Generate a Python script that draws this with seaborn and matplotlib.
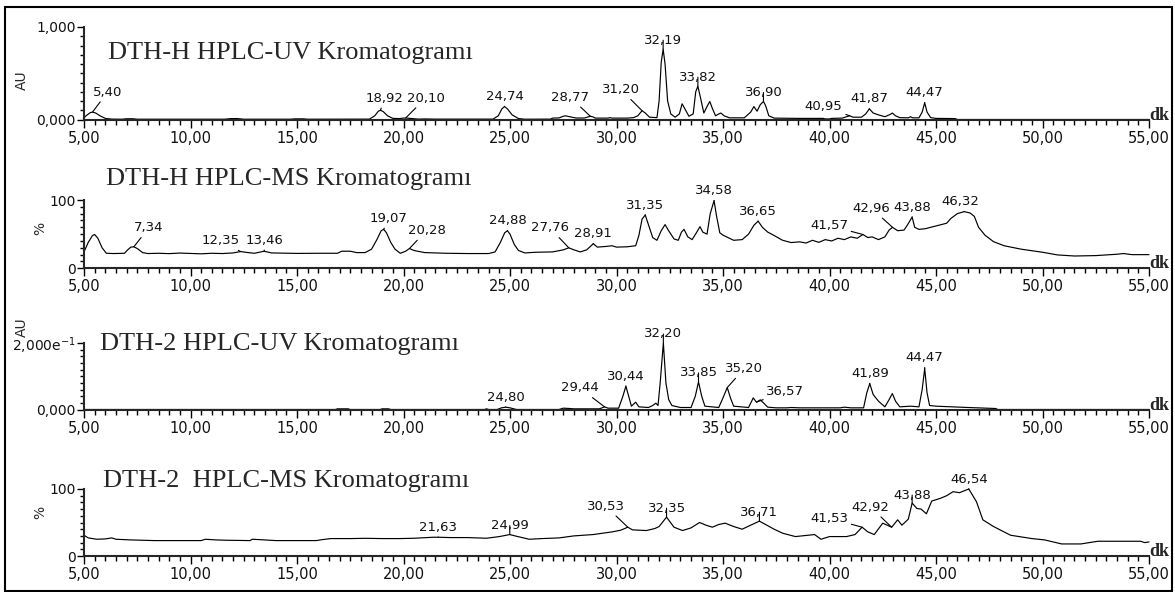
import numpy as np
import matplotlib
matplotlib.use("Agg")
import matplotlib.pyplot as plt
import seaborn as sns
from matplotlib.ticker import MultipleLocator, FixedLocator, FuncFormatter
from matplotlib.patches import Rectangle

# ---------------- DATA ----------------
# Panel 1: DTH-H HPLC-UV (AU)
uv1_t = [5.00, 5.15, 5.30, 5.40, 5.55, 5.75, 6.00, 6.30, 6.80, 7.00, 7.30, 7.50, 11.6, 11.9, 12.2, 12.5,
         14.7, 14.9, 15.3, 15.5, 18.40, 18.65, 18.82, 18.92, 19.05, 19.25, 19.50, 19.80, 20.00, 20.10,
         20.40, 20.70, 21.0, 21.5, 24.20, 24.45, 24.62, 24.74, 24.88, 25.10, 25.40, 25.70, 26.9, 27.0,
         27.3, 27.5, 27.6, 27.8, 28.1, 28.5, 28.77, 28.9, 29.0, 29.6, 29.7, 29.8, 30.5, 30.8, 31.0,
         31.20, 31.35, 31.55, 31.90, 32.00, 32.10, 32.19, 32.28, 32.40, 32.55, 32.75, 32.95, 33.08,
         33.20, 33.40, 33.60, 33.72, 33.82, 33.93, 34.10, 34.25, 34.38, 34.50, 34.65, 34.80, 34.90,
         35.05, 35.30, 36.00, 36.30, 36.45, 36.60, 36.75, 36.90, 37.00, 37.15, 37.40, 38.5, 39.7, 39.8,
         40.0, 40.1, 40.6, 40.8, 40.95, 41.10, 41.50, 41.70, 41.87, 42.05, 42.30, 42.60, 42.85, 42.95,
         43.10, 43.30, 43.70, 43.80, 43.90, 44.20, 44.35, 44.47, 44.58, 44.75, 45.00, 45.90, 46.00, 55.00]
uv1_v = [0.020, 0.050, 0.075, 0.080, 0.070, 0.040, 0.012, 0.004, 0.003, 0.008, 0.008, 0.003, 0.003, 0.010, 0.010, 0.003,
         0.003, 0.007, 0.007, 0.003, 0.004, 0.040, 0.090, 0.100, 0.085, 0.040, 0.012, 0.010, 0.015, 0.016,
         0.010, 0.004, 0.006, 0.004, 0.004, 0.040, 0.115, 0.140, 0.115, 0.050, 0.010, 0.003, 0.004, 0.015,
         0.017, 0.035, 0.040, 0.030, 0.016, 0.016, 0.035, 0.028, 0.015, 0.015, 0.020, 0.015, 0.015, 0.020, 0.040,
         0.095, 0.070, 0.025, 0.020, 0.200, 0.620, 0.760, 0.600, 0.200, 0.060, 0.025, 0.060, 0.170,
         0.120, 0.035, 0.060, 0.300, 0.360, 0.250, 0.070, 0.140, 0.195, 0.120, 0.040, 0.060, 0.070,
         0.040, 0.018, 0.018, 0.080, 0.140, 0.090, 0.160, 0.195, 0.150, 0.040, 0.015, 0.012, 0.012, 0.006,
         0.006, 0.012, 0.015, 0.030, 0.040, 0.025, 0.025, 0.060, 0.115, 0.070, 0.050, 0.030, 0.055, 0.070,
         0.040, 0.020, 0.018, 0.030, 0.018, 0.018, 0.080, 0.180, 0.080, 0.020, 0.012, 0.010, 0.000, 0.000]

# Panel 2: DTH-H HPLC-MS (%)
ms1_t = [5.00, 5.20, 5.40, 5.50, 5.65, 5.85, 6.05, 6.40, 6.90, 7.05, 7.20, 7.34, 7.50, 7.75, 8.0, 8.5, 9.0,
         9.5, 10.0, 10.5, 11.0, 11.5, 12.0, 12.35, 12.7, 13.0, 13.46, 13.8, 14.5, 15.0, 16.0, 16.9, 17.1,
         17.5, 17.8, 18.2, 18.5, 18.75, 18.95, 19.07, 19.2, 19.4, 19.6, 19.85, 20.1, 20.28, 20.5, 21.0,
         22.0, 23.0, 24.0, 24.3, 24.55, 24.75, 24.88, 25.0, 25.2, 25.4, 25.7, 26.2, 27.0, 27.5, 27.76,
         28.0, 28.3, 28.6, 28.91, 29.1, 29.5, 29.8, 30.0, 30.5, 30.9, 31.05, 31.2, 31.35, 31.5, 31.7,
         31.9, 32.1, 32.28, 32.45, 32.7, 32.9, 33.05, 33.17, 33.35, 33.55, 33.75, 33.92, 34.05, 34.25,
         34.40, 34.58, 34.70, 34.85, 35.0, 35.5, 35.9, 36.2, 36.45, 36.65, 36.85, 37.1, 37.4, 37.8, 38.2,
         38.6, 38.9, 39.2, 39.5, 39.8, 40.1, 40.4, 40.7, 41.0, 41.3, 41.57, 41.8, 42.0, 42.3, 42.6, 42.8,
         42.96, 43.2, 43.5, 43.65, 43.88, 44.0, 44.2, 44.5, 45.0, 45.5, 45.7, 46.0, 46.32, 46.6, 46.8,
         47.0, 47.3, 47.7, 48.2, 49.0, 50.0, 50.7, 51.5, 52.5, 53.5, 53.8, 54.2, 55.0]
ms1_v = [24, 38, 48, 49.5, 44, 30, 22, 21.6, 22, 27, 31, 31.5, 29, 23, 21.6, 22, 21.5,
         22.3, 21.8, 21.2, 22, 21.6, 22.5, 24.5, 23, 22, 25, 22.5, 22, 21.8, 22, 22, 25,
         25, 23, 23, 28, 42, 55, 57, 52, 38, 28, 22, 25, 29, 26, 23,
         22, 21.6, 21.6, 24, 38, 52, 55, 50, 35, 26, 22.5, 23.5, 24, 27, 30,
         27, 24, 27, 36, 31, 32, 33, 31, 31.5, 33, 48, 72, 78, 64, 45,
         41, 55, 64, 55, 43, 41, 53, 57, 46, 42, 52, 61, 53, 50,
         80, 99, 76, 52, 48.5, 41, 42, 50, 63, 69, 60, 53, 48, 41, 37.7,
         38.7, 37, 41, 38, 42, 40, 44, 42, 46, 44, 49.5, 45, 46, 42, 46, 56,
         60, 55, 56, 63, 75, 60, 57, 58, 62, 66, 73, 80, 83, 81, 76,
         60, 48.5, 39, 33, 28, 23.5, 19.6, 18, 18.6, 20.6, 21.6, 20, 20]

# Panel 3: DTH-2 HPLC-UV (AU)
uv2_t = [5.0, 16.8, 16.9, 17.4, 17.5, 18.9, 19.0, 19.3, 19.4, 23.8, 23.9, 24.0, 24.4, 24.6, 24.80, 25.0,
         25.3, 27.3, 27.5, 27.8, 28.0, 29.2, 29.44, 29.6, 30.1, 30.3, 30.44, 30.55, 30.7, 30.9, 31.05,
         31.5, 31.7, 31.85, 31.95, 32.05, 32.20, 32.32, 32.45, 32.6, 33.0, 33.5, 33.7, 33.85, 34.0,
         34.15, 34.8, 35.0, 35.20, 35.35, 35.5, 36.2, 36.42, 36.57, 36.75, 36.9, 37.1, 37.5, 38.0, 38.2,
         38.6, 40.5, 40.7, 41.0, 41.6, 41.75, 41.89, 42.05, 42.3, 42.6, 42.8, 42.95, 43.1, 43.3, 43.8,
         44.2, 44.35, 44.47, 44.58, 44.7, 45.0, 46.5, 47.8, 47.9, 55.0]
uv2_v = [0.0, 0.0, 0.002, 0.002, 0.0, 0.0, 0.002, 0.002, 0.0, 0.0, 0.002, 0.0, 0.0, 0.005, 0.007, 0.005,
         0.0, 0.0, 0.004, 0.003, 0.002, 0.002, 0.008, 0.004, 0.004, 0.040, 0.070, 0.045, 0.010, 0.022, 0.008,
         0.006, 0.012, 0.019, 0.012, 0.080, 0.200, 0.080, 0.030, 0.012, 0.006, 0.006, 0.040, 0.083, 0.040,
         0.010, 0.006, 0.035, 0.066, 0.035, 0.010, 0.006, 0.035, 0.022, 0.029, 0.020, 0.007, 0.005, 0.005, 0.006,
         0.005, 0.005, 0.007, 0.005, 0.005, 0.050, 0.078, 0.045, 0.025, 0.008, 0.030, 0.048, 0.025, 0.008, 0.010,
         0.008, 0.060, 0.123, 0.050, 0.012, 0.010, 0.006, 0.003, 0.0, 0.0]

# Panel 4: DTH-2 HPLC-MS (%)
ms2_t = [5.0, 5.2, 5.6, 6.0, 6.3, 6.5, 7.2, 8.3, 9.0, 10.5, 10.7, 11.2, 11.7, 12.8, 12.9, 13.2, 14.0,
         15.9, 16.2, 16.6, 17.5, 18.2, 19.0, 19.8, 20.5, 21.4, 21.63, 22.2, 23.0, 23.9, 24.5, 24.99,
         25.3, 25.9, 26.5, 27.3, 28.0, 28.9, 29.8, 30.2, 30.53, 30.75, 31.4, 31.8, 32.0, 32.35, 32.7,
         33.1, 33.5, 33.9, 34.2, 34.5, 34.8, 35.1, 35.5, 35.9, 36.3, 36.71, 37.0, 37.4, 37.8, 38.4,
         39.0, 39.3, 39.6, 40.0, 40.8, 41.2, 41.53, 41.8, 42.1, 42.5, 42.92, 43.2, 43.4, 43.7, 43.88,
         44.1, 44.3, 44.55, 44.8, 45.2, 45.5, 45.8, 46.1, 46.54, 46.9, 47.2, 47.7, 48.5, 49.5, 50.1,
         50.9, 51.8, 52.6, 54.0, 54.6, 54.8, 55.0]
ms2_v = [31, 27, 25, 25.5, 27, 25, 24, 23, 23, 23, 25, 24, 23.5, 23, 25, 24.5, 23,
         23, 24.5, 26, 26, 26.4, 26, 26, 26.5, 28, 28, 27.5, 27.5, 26.5, 29, 32,
         29.5, 25, 26, 27, 30, 32, 36, 38.5, 43, 39, 38, 41, 44, 58, 43,
         38, 42, 50, 46, 43, 47, 49, 44, 40, 46, 52, 47, 40, 34, 29,
         31, 32, 25, 29, 29, 32, 43, 36, 32, 49, 43, 54, 46, 55, 79,
         71, 70, 63, 82, 86, 90, 96, 94.5, 100, 81, 54, 44, 31, 26, 24,
         18, 18, 22, 22, 22, 20, 21]

titles = ["DTH-H HPLC-UV Kromatogramı", "DTH-H HPLC-MS Kromatogramı",
          "DTH-2 HPLC-UV Kromatogramı", "DTH-2  HPLC-MS Kromatogramı"]
y_units = ["AU", "%", "AU", "%"]
y_tick_values = [[0.0, 1.0], [0, 100], [0.0, 0.2], [0, 100]]
y_tick_labels = [["0,000", "1,000"], ["0", "100"], ["0,000", "2,000e$^{-1}$"], ["0", "100"]]
x_ticks = [5, 10, 15, 20, 25, 30, 35, 40, 45, 50, 55]

peak_labels = [
    ["5,40", "18,92", "20,10", "24,74", "28,77", "31,20", "32,19", "33,82", "36,90", "40,95", "41,87", "44,47"],
    ["7,34", "12,35", "13,46", "19,07", "20,28", "24,88", "27,76", "28,91", "31,35", "34,58", "36,65",
     "41,57", "42,96", "43,88", "46,32"],
    ["24,80", "29,44", "30,44", "32,20", "33,85", "35,20", "36,57", "41,89", "44,47"],
    ["21,63", "24,99", "30,53", "32,35", "36,71", "41,53", "42,92", "43,88", "46,54"],
]
# label offsets (pixels) of label centre relative to its peak
label_offsets = [
    [(15, 20), (4, 12), (20, 20), (0, 10), (-20, 19), (-21, 21), (0, 9), (0, 9), (0, 9), (-26, 9), (0, 10), (0, 10)],
    [(15, 19), (-20, 11), (0, 11), (5, 11), (17, 18), (0, 10), (-19, 20), (0, 10), (0, 10), (0, 10), (0, 10),
     (-34, 9), (-21, 19), (0, 10), (-4, 10)],
    [(0, 10), (-25, 19), (0, 10), (0, 9), (0, 9), (17, 19), (29, 11), (0, 10), (0, 11)],
    [(0, 10), (0, 9), (-22, 21), (0, 9), (0, 9), (-33, 9), (-21, 20), (0, 8), (0, 10)],
]

# ---------------- LAYOUT ----------------
sns.set_style("ticks")
plt.rcParams["font.family"] = ["DejaVu Sans"]
plt.rcParams["mathtext.fontset"] = "dejavusans"

W, H = 1175, 592
fig = plt.figure(figsize=(W / 100, H / 100), dpi=100)


def fx(px):
    return px / W


def fy(py):
    return 1 - py / H


X0, X1 = 84, 1149
panel_box = [(27, 119.5), (200, 268.3), (343, 409.5), (489, 556)]
y_limits = [(0, 1.0), (0, 100), (0, 0.2), (0, 100)]
y_minor = [0.1, 10, 0.02, 10]
unit_pos = [(22, 80), (40, 228), (22, 327), (40, 512)]
title_pos = [(108, 59), (106, 185), (100, 350), (103, 487)]

series = [(uv1_t, uv1_v), (ms1_t, ms1_v), (uv2_t, uv2_v), (ms2_t, ms2_v)]

for i, (t, v) in enumerate(series):
    top, bot = panel_box[i]
    ax = fig.add_axes([fx(X0), fy(bot), fx(X1) - fx(X0), (bot - top) / H])
    ax.set_facecolor("none")
    sns.lineplot(x=np.array(t), y=np.array(v), ax=ax, color="black", linewidth=0.85,
                 estimator=None, sort=False)
    for ln in ax.lines:
        ln.set_clip_on(False)
    ax.set_xlim(5, 55)
    ax.set_ylim(*y_limits[i])
    ax.set_xlabel("")
    ax.set_ylabel("")
    sns.despine(ax=ax, top=True, right=True)
    ax.spines["left"].set_linewidth(1.5)
    ax.spines["bottom"].set_linewidth(1.5)

    ax.xaxis.set_major_locator(FixedLocator(x_ticks))
    ax.xaxis.set_minor_locator(MultipleLocator(0.5))
    ax.xaxis.set_major_formatter(FuncFormatter(lambda val, pos: f"{val:.2f}".replace(".", ",")))
    ax.yaxis.set_major_locator(FixedLocator(y_tick_values[i]))
    ax.set_yticklabels(y_tick_labels[i])
    ax.yaxis.set_minor_locator(MultipleLocator(y_minor[i]))

    ax.tick_params(axis="x", which="major", length=6, width=1, direction="out", labelsize=10.5, pad=2,
                   color="black", labelcolor="#111111")
    ax.tick_params(axis="x", which="minor", length=3.5, width=1, direction="out", color="black")
    ax.tick_params(axis="y", which="major", length=5, width=1, direction="out", labelsize=10, pad=1,
                   color="black", labelcolor="#111111")
    ax.tick_params(axis="y", which="minor", length=3, width=1, direction="out", color="black")

    ax.text(1.0, 0.0, "dk", transform=ax.transAxes, ha="left", va="baseline",
            fontfamily="Liberation Serif", fontweight="bold", fontsize=13)

    # peak labels with leader lines
    tt = np.array(t)
    vv = np.array(v)
    for lab, (dx, dy) in zip(peak_labels[i], label_offsets[i]):
        pt = float(lab.replace(",", "."))
        pv = float(np.interp(pt, tt, vv))
        ax.annotate(lab, xy=(pt, pv), xytext=(dx, dy), textcoords="offset pixels",
                    ha="center", va="center", fontsize=9.5, color="#111111",
                    arrowprops=dict(arrowstyle="-", color="black", lw=0.8,
                                    shrinkA=0, shrinkB=0),
                    annotation_clip=False)

    ux, uy = unit_pos[i]
    fig.text(fx(ux), fy(uy), y_units[i], rotation=90, ha="center", va="center", fontsize=10)
    tx, ty = title_pos[i]
    fig.text(fx(tx), fy(ty), titles[i], ha="left", va="baseline",
             fontfamily="Liberation Serif", fontsize=19)

fig.add_artist(Rectangle((fx(5), fy(591)), fx(1172) - fx(5), fy(7) - fy(591),
                         fill=False, lw=1.5, edgecolor="black", transform=fig.transFigure))

fig.savefig("out.png", dpi=100)
